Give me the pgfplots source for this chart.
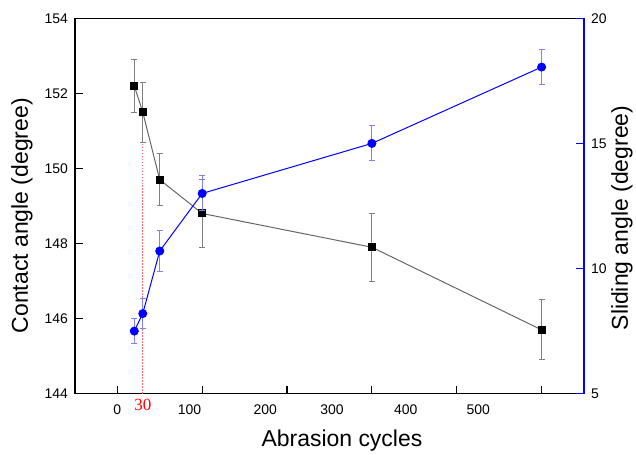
\documentclass[border=0pt]{standalone}
\usepackage{fontspec}
\setmainfont{Liberation Sans}
\newfontfamily\timesfont{Liberation Serif}
\usepackage{pgfplots}
\pgfplotsset{compat=1.18}

\pgfplotsset{
  common/.style={
    width=510pt, height=376pt, scale only axis,
    xmin=-50, xmax=550,
    tick align=inside,
    major tick length=8pt,
    /pgf/number format/assume math mode=true,
    tick label style={font=\fontsize{14}{14}\selectfont},
    label style={font=\fontsize{23}{23}\selectfont},
    clip=false,
  },
}

\begin{document}
\begin{tikzpicture}

% left axis: contact angle
\begin{axis}[
  common,
  axis x line*=bottom,
  axis y line*=left,
  axis line style={black, line width=1.3pt},
  tick style={black, line width=1.2pt},
  ymin=144, ymax=154,
  ytick={144,146,148,150,152,154},
  xtick={0,100,200,300,400,500},
  xticklabel={\relax},
  y tick label style={xshift=-3.5pt},
  xlabel={Abrasion cycles},
  xlabel style={at={(axis description cs:0.5245,-0.140)}, anchor=base},
  ylabel={Contact angle (degree)},
  ylabel style={at={(axis description cs:-0.104,0.474)}, anchor=center},
]
\draw[black, line width=1.3pt] (rel axis cs:0,1) -- (rel axis cs:1,1);
% inward tick marks
\pgfplotsinvokeforeach{0,100,200,300,400,500}{
  \draw[black, line width=1.2pt] (axis cs:#1,144) -- ++(0pt,8pt);
}
\pgfplotsinvokeforeach{146,148,150,152}{
  \draw[black, line width=1.2pt] (axis cs:-50,#1) -- ++(8pt,0pt);
}
\addplot[color=red!55, dash pattern=on 1.5pt off 1.5pt, line width=1.2pt]
  coordinates {(30,144) (30,151.5)};
\addplot[
  black!60, line width=1pt,
  mark=square*, mark size=3.5pt,
  mark options={solid, fill=black, draw=black},
  error bars/.cd, y dir=both, y explicit,
  error bar style={black!50, line width=1pt},
  error mark options={rotate=90, mark size=3pt, black!50, line width=1pt},
] coordinates {
  (20,152.2) +- (0,0.7)
  (30,151.5) +- (0,0.8)
  (50,149.7) +- (0,0.7)
  (100,148.8) +- (0,0.9)
  (300,147.9) +- (0,0.9)
  (500,145.7) +- (0,0.8)
};
\node[text=red, font=\timesfont\fontsize{17}{17}\selectfont, anchor=base,
  yshift=-16.4pt] at (axis cs:30,144) {30};
\end{axis}

% x tick labels, set apart from the tick marks as in the original
\begin{axis}[
  common,
  axis x line*=bottom,
  axis y line=none,
  ymin=0, ymax=1,
  axis line style={draw=none},
  xtick style={draw=none},
  xtick={0,85.1,174.4,252.9,339.8,425.4},
  xticklabels={0,100,200,300,400,500},
  x tick label style={yshift=-8pt},
]
\end{axis}

% right axis: sliding angle
\begin{axis}[
  common,
  axis x line=none,
  axis y line*=right,
  y axis line style={blue, line width=1.3pt},
  ytick style={blue, line width=1.2pt},
  ymin=5, ymax=20,
  ytick={5,10,15,20},
  y tick label style={xshift=3.5pt},
  ylabel={Sliding angle (degree)},
  ylabel style={at={(axis description cs:1.0745,0.468)}, anchor=center},
]
\addplot[
  blue, line width=1pt,
  mark=*, mark size=4pt,
  mark options={solid, fill=blue, draw=blue},
  error bars/.cd, y dir=both, y explicit,
  error bar style={blue!50, line width=1pt},
  error mark options={rotate=90, mark size=3pt, blue!50, line width=1pt},
] coordinates {
  (20,7.5) +- (0,0.5)
  (30,8.2) +- (0,0.6)
  (50,10.7) +- (0,0.8)
  (100,13.0) +- (0,0.7)
  (300,15.0) +- (0,0.7)
  (500,18.05) +- (0,0.7)
};
\end{axis}
\path (-75pt,-57.7pt) rectangle (561pt,394.3pt);
\end{tikzpicture}
\end{document}
